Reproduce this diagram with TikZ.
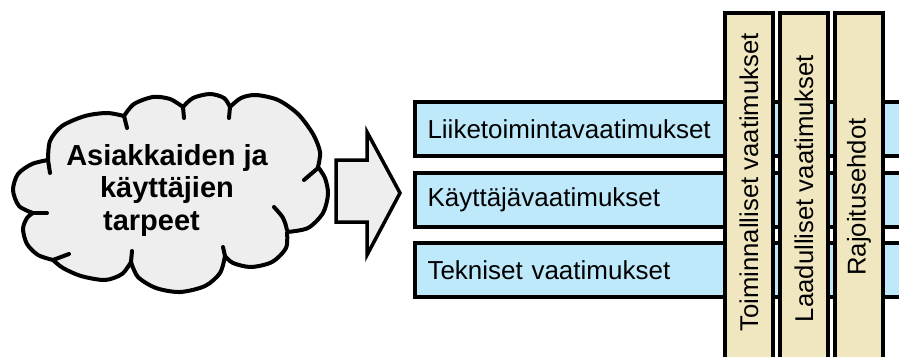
\documentclass[tikz,border=0pt]{standalone}
\usepackage{fontspec}
\setmainfont{Liberation Sans}
\definecolor{barblue}{RGB}{190,233,250}
\definecolor{barsand}{RGB}{240,231,192}
\definecolor{cloudgray}{RGB}{238,238,238}
\begin{document}
\begin{tikzpicture}[x=1pt,y=-1pt,
  hbar/.style={draw=black, line width=3.2pt, fill=barblue, outer sep=0pt,
    anchor=north west, minimum width=520pt, minimum height=54pt,
    text width=495pt, align=left, inner xsep=9pt, inner ysep=0pt,
    font=\fontsize{26}{30}\selectfont},
  vbar/.style={draw=black, line width=3.2pt, fill=barsand},
  vtext/.style={rotate=90, inner sep=0pt, font=\fontsize{25.7}{30}\selectfont},
  outline/.style={draw=black, line width=4pt, line join=round, line cap=round},
  hook/.style={draw=black, line width=4pt, line cap=round}]
\useasboundingbox (0,0) rectangle (899,356);
\clip (0,0) rectangle (899,356);

% requirement levels (horizontal bands)
\node[hbar] (business) at (415,102) {Liiketoimintavaatimukset};
\node[hbar] (user) at (415,173) {Käyttäjävaatimukset};
\node[hbar] (tech) at (415,243) {Tekniset vaatimukset};

% requirement types (vertical bands across the levels)
\path[vbar] (725,13) rectangle (773,380);
\path[vbar] (780,13) rectangle (828,380);
\path[vbar] (835,13) rectangle (883,380);
\node[vtext] (functional) at (749,182.5) {Toiminnalliset vaatimukset};
\node[vtext] (quality) at (804,188.5) {Laadulliset vaatimukset};
\node[vtext] (constraints) at (859,197) {Rajoitusehdot};

% block arrow from the needs towards the requirements
\path[draw=black, line width=3.5pt, fill=cloudgray]
  (336,160) -- (367,160) -- (367,132) -- (400,193) -- (367,255)
  -- (367,222) -- (336,222) -- cycle;

% cloud of customer and user needs, built lobe by lobe
\path[outline, fill=cloudgray]
  plot[smooth] coordinates {(33,213) (19,206) (13,190) (18,174) (32,164) (48,160)}
  -- plot[smooth] coordinates {(48,160) (50,141) (62,126) (85,116) (107,113) (124,116)}
  -- plot[smooth] coordinates {(124,116) (134,104) (153,97) (170,99) (183,107)}
  -- plot[smooth] coordinates {(183,107) (193,98) (210,94) (224,98) (230,107)}
  -- plot[smooth] coordinates {(230,107) (241,98) (256,95) (278,100) (298,114) (313,134) (320,152) (318,167)}
  -- plot[smooth] coordinates {(318,167) (325,178) (328,194) (323,213) (308,228) (287,232)}
  -- plot[smooth] coordinates {(287,232) (286,248) (272,262) (251,267) (233,263) (225,256)}
  -- plot[smooth] coordinates {(225,256) (220,273) (205,286) (180,292) (156,288) (138,277) (131,262)}
  -- plot[smooth] coordinates {(131,262) (122,274) (105,280) (81,276) (63,268) (53,260)}
  -- plot[smooth] coordinates {(53,260) (38,255) (27,244) (23,229) (27,218) (33,213)}
  -- cycle;
\draw[hook] (33,213) -- (47,213);
\draw[hook] (48,160) -- (50,173);
\draw[hook] (124,116) -- (127,128);
\draw[hook] (183,107) -- (184,118);
\draw[hook] (230,107) -- (229,118);
\draw[hook] (318,168) -- (304,180);
\draw[hook] (287,230) .. controls (284,218) .. (274,207);
\draw[hook] (225,256) -- (223,247);
\draw[hook] (131,262) -- (132,251);
\draw[hook] (53,260) -- (69,254);

\node[align=center, inner sep=0pt, font=\fontsize{29}{32.5}\selectfont\bfseries]
  (needs) at (167,190) {Asiakkaiden ja\\käyttäjien\hspace*{8pt}\\tarpeet\hspace*{31pt}};
\end{tikzpicture}
\end{document}
